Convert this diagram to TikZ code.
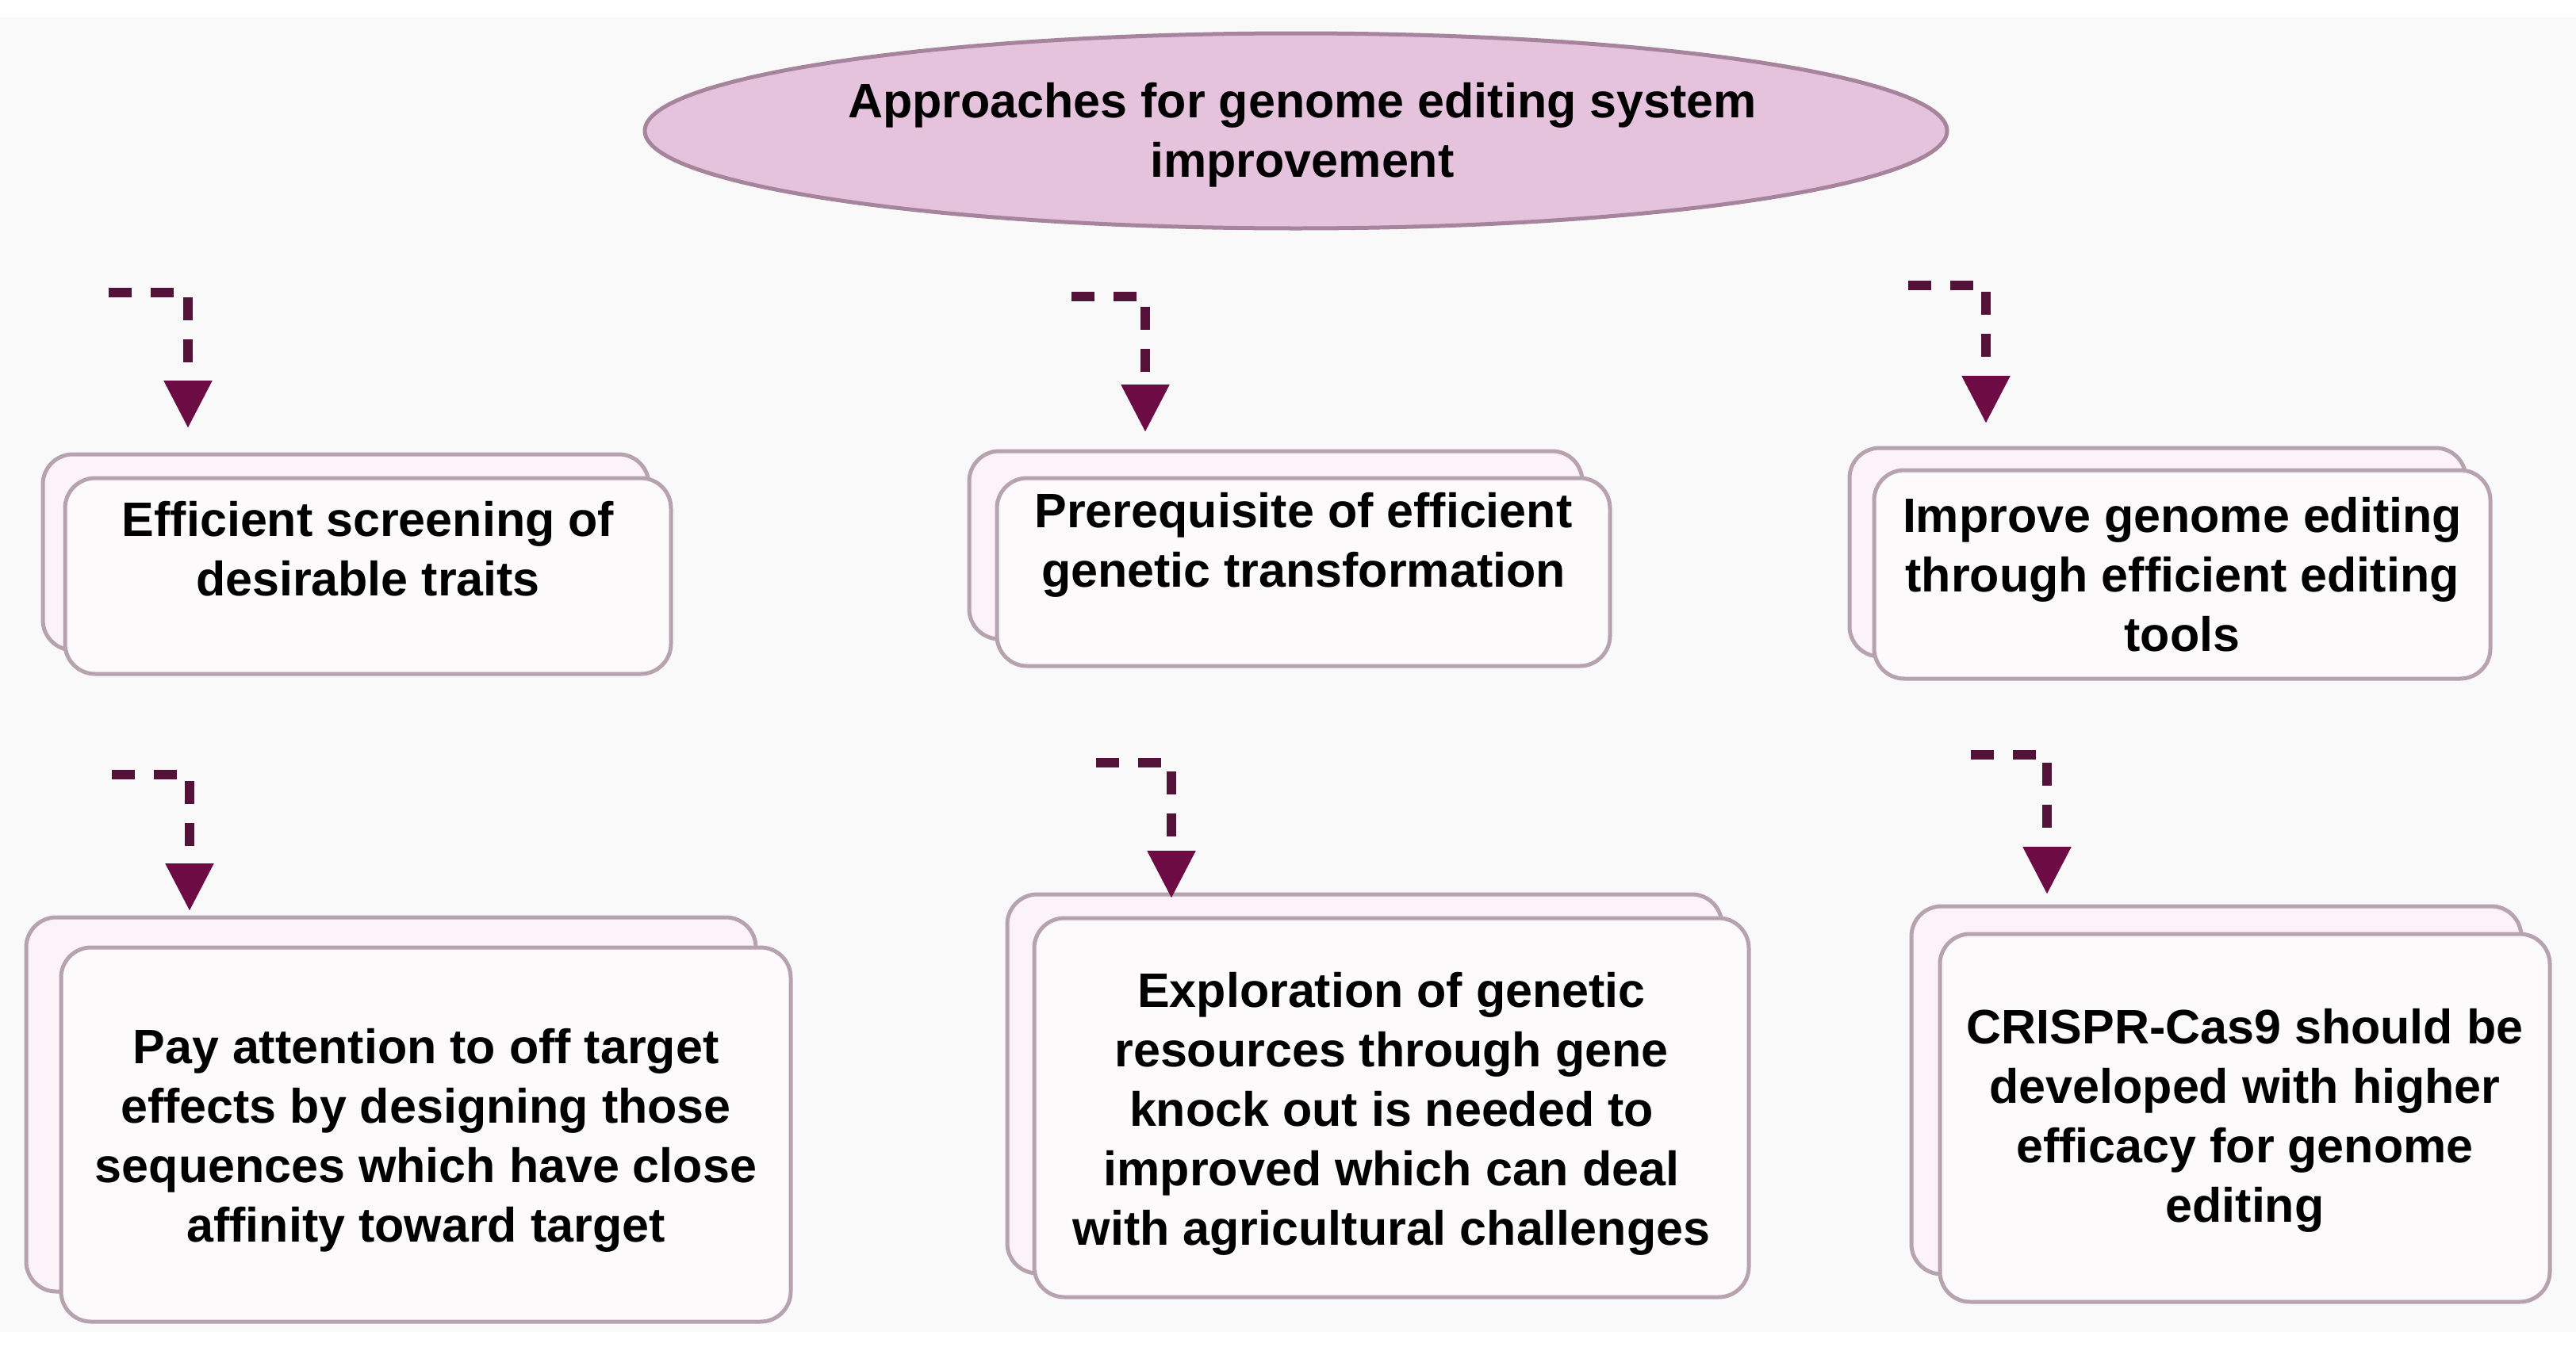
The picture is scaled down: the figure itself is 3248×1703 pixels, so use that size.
\documentclass[tikz,border=0pt]{standalone}
\usepackage{fontspec}
\setmainfont{Liberation Sans}
\usetikzlibrary{arrows.meta,shapes.geometric}
\definecolor{bgc}{HTML}{F9F9F9}
\definecolor{boxline}{HTML}{B7A2AF}
\definecolor{backfill}{HTML}{FCF3F8}
\definecolor{frontfill}{HTML}{FDFAFC}
\definecolor{ellfill}{HTML}{E6C3DC}
\definecolor{ellline}{HTML}{A5849C}
\definecolor{arrowc}{HTML}{551238}
\definecolor{tipc}{HTML}{6D0B45}
\tikzset{
  backbox/.style={draw=boxline, fill=backfill, line width=5pt, rounded corners=38pt, inner sep=0pt, outer sep=0pt},
  frontbox/.style={draw=boxline, fill=frontfill, line width=5pt, rounded corners=38pt, inner sep=0pt, outer sep=0pt},
  flow/.style={draw=arrowc, line width=12pt, dash pattern=on 29pt off 24pt, -{Triangle[width=58pt,length=60pt,color=tipc]}},
  titleell/.style={ellipse, draw=ellline, fill=ellfill, line width=5pt, inner sep=0pt, minimum width=1642pt, minimum height=246pt, align=center}
}
\newcommand{\stackbox}[9]{%
  \node[backbox, minimum width=#4pt, minimum height=#5pt, anchor=north west] (#1back) at (#2+#6, #3+#7) {};
  \node[frontbox, anchor=north west] (#1) at (#2,#3) {\parbox[t][#5pt][t]{#4pt}{\centering\rule{0pt}{#8pt}#9}};
}
\begin{document}
\begin{tikzpicture}[x=1pt, y=-1pt, font=\fontsize{61}{75}\selectfont\bfseries]
\useasboundingbox (0,0) rectangle (3248,1703);
\fill[white] (0,0) rectangle (3248,1703);
\fill[bgc] (0,22) rectangle (3248,1680);

\node[titleell] (title) at (1634,165) {};
\node[align=center, inner sep=0pt] (titletext) at (1642,170) {Approaches for genome editing system\\improvement};

\stackbox{a}{82}{603}{764}{247}{-28}{-30}{73}{Efficient screening of\\desirable traits}
\stackbox{b}{1257}{603}{773}{237}{-35}{-34}{62}{Prerequisite of efficient\\genetic transformation}
\stackbox{c}{2363}{593}{777}{263}{-31}{-28}{78}{Improve genome editing\\through efficient editing\\tools}
\stackbox{d}{77}{1195}{920}{472}{-44}{-38}{146}{Pay attention to off target\\effects by designing those\\sequences which have close\\affinity toward target}
\stackbox{e}{1304}{1158}{901}{478}{-34}{-30}{112}{Exploration of genetic\\resources through gene\\knock out is needed to\\improved which can deal\\with agricultural challenges}
\stackbox{f}{2446}{1178}{769}{464}{-36}{-35}{138}{CRISPR-Cas9 should be\\developed with higher\\efficacy for genome\\editing}

\coordinate (sa) at (137,369);  \coordinate (ta) at (237,540);
\coordinate (sb) at (1351,374); \coordinate (tb) at (1444,545);
\coordinate (sc) at (2406,360); \coordinate (tc) at (2504,534);
\coordinate (sd) at (141,977);  \coordinate (td) at (239,1149);
\coordinate (se) at (1382,962); \coordinate (te) at (1477,1133);
\coordinate (sf) at (2485,952); \coordinate (tf) at (2581,1128);
\foreach \s/\t in {sa/ta, sb/tb, sc/tc, sd/td, se/te, sf/tf}
  \draw[flow] (\s) -| (\t);
\end{tikzpicture}
\end{document}
